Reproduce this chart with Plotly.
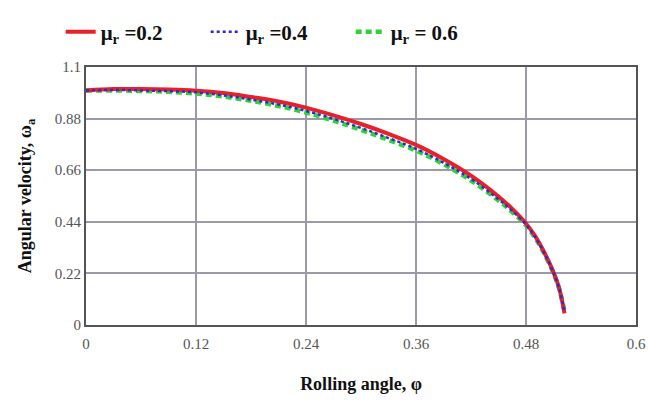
import plotly.graph_objects as go

phi = [0, 0.03, 0.06, 0.09, 0.12, 0.15, 0.18, 0.21, 0.24, 0.27, 0.30, 0.33,
       0.36, 0.39, 0.42, 0.45, 0.465, 0.48, 0.49, 0.50, 0.51, 0.516, 0.522]
omega_02 = [1.0, 1.006, 1.006, 1.004, 0.999, 0.989, 0.972, 0.953, 0.927, 0.894, 0.857, 0.815,
            0.768, 0.708, 0.637, 0.548, 0.495, 0.433, 0.379, 0.309, 0.225, 0.16, 0.05]
omega_04 = [1.0, 1.002, 1.0, 0.997, 0.992, 0.979, 0.961, 0.94, 0.913, 0.879, 0.84, 0.797,
            0.751, 0.692, 0.623, 0.536, 0.486, 0.428, 0.375, 0.306, 0.223, 0.158, 0.055]
omega_06 = [1.0, 1.0, 0.998, 0.994, 0.987, 0.974, 0.956, 0.934, 0.906, 0.871, 0.832, 0.789,
            0.744, 0.686, 0.616, 0.531, 0.482, 0.425, 0.372, 0.304, 0.221, 0.156, 0.06]

x_ticks = [0, 0.12, 0.24, 0.36, 0.48, 0.6]
x_labels = ["0", "0.12", "0.24", "0.36", "0.48", "0.6"]
y_ticks = [0, 0.22, 0.44, 0.66, 0.88, 1.1]
y_labels = ["0", "0.22", "0.44", "0.66", "0.88", "1.1"]

names = ["μ<sub>r</sub> =0.2", "μ<sub>r</sub> =0.4", "μ<sub>r</sub> = 0.6"]

fig = go.Figure()
fig.add_trace(go.Scatter(x=phi, y=omega_06, mode="lines", name=names[2], legendrank=3,
                         line=dict(color="#2fd23a", width=4.5, dash="6px,4px",
                                   shape="spline", smoothing=1.0)))
fig.add_trace(go.Scatter(x=phi, y=omega_02, mode="lines", name=names[0], legendrank=1,
                         line=dict(color="#e8202a", width=4, shape="spline", smoothing=1.0)))
fig.add_trace(go.Scatter(x=phi, y=omega_04, mode="lines", name=names[1], legendrank=2,
                         line=dict(color="#2a2ad8", width=2.5, dash="dot",
                                   shape="spline", smoothing=1.0)))

tickfont = dict(family="Liberation Serif", size=15, color="#555555")
titlefont = dict(family="Liberation Serif", size=18, color="#111111")

fig.update_layout(
    width=665, height=402,
    margin=dict(l=86, r=29, t=58, b=77),
    paper_bgcolor="white", plot_bgcolor="white",
    showlegend=True,
    legend=dict(orientation="h", x=-0.046, xanchor="left", y=1.135, yanchor="middle",
                font=dict(family="Liberation Serif", size=21, color="#111111", weight="bold"),
                entrywidth=100, entrywidthmode="pixels", itemwidth=30,
                bgcolor="rgba(0,0,0,0)", traceorder="normal"),
    xaxis=dict(range=[0, 0.6], tickvals=x_ticks, ticktext=x_labels, tickfont=tickfont,
               showgrid=True, gridcolor="#9a9aaa", gridwidth=1.5,
               showline=True, linecolor="#555555", linewidth=2, mirror=True,
               ticks="", ticklabelstandoff=4, zeroline=False,
               title=dict(text="<b>Rolling angle, φ</b>", font=titlefont, standoff=26)),
    yaxis=dict(range=[0, 1.1], tickvals=y_ticks, ticktext=y_labels, tickfont=tickfont,
               showgrid=True, gridcolor="#9a9aaa", gridwidth=1.5,
               showline=True, linecolor="#555555", linewidth=2, mirror=True,
               ticks="", zeroline=False,
               title=dict(text="<b>Angular velocity, ω<sub>a</sub></b>", font=titlefont, standoff=18)),
)

fig.write_html("out.html")
